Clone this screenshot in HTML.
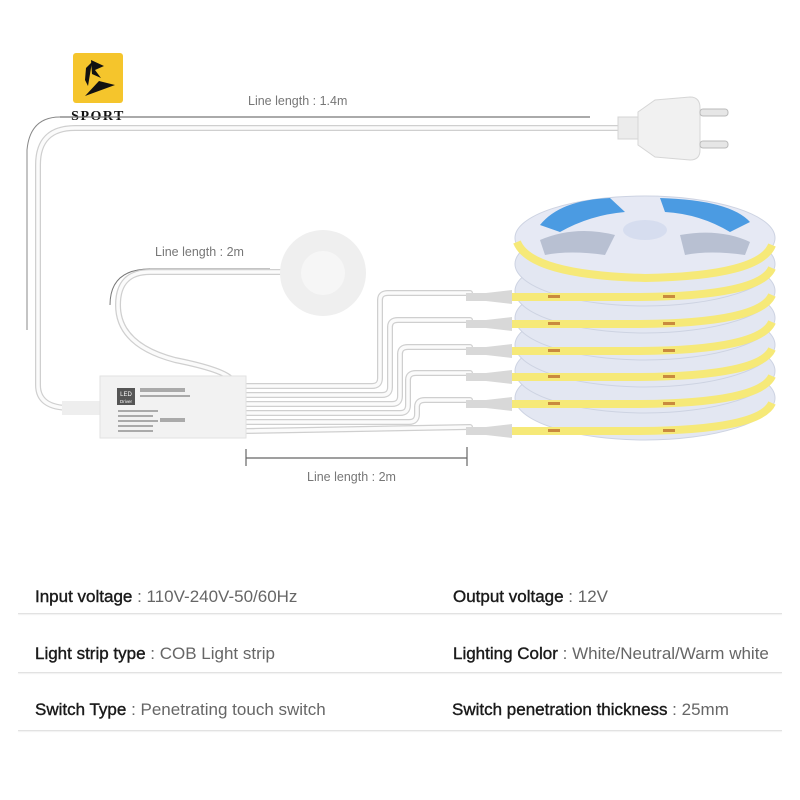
<!DOCTYPE html>
<html><head><meta charset="utf-8"><style>
body{margin:0;background:#fff;}
.w{position:relative;width:800px;height:800px;overflow:hidden;background:#fff;font-family:"Liberation Sans","Noto Sans CJK SC",sans-serif;}
.row{position:absolute;left:18px;width:764px;height:1px;background:#e2e2e2;box-shadow:0 1px 1px #eee;}
.t{position:absolute;font-size:17px;color:#666;white-space:nowrap;}
.t b{color:#1a1a1a;font-weight:normal;-webkit-text-stroke:0.4px #1a1a1a;}
</style></head><body><div class="w">
<svg width="800" height="560" style="position:absolute;left:0;top:0" xmlns="http://www.w3.org/2000/svg">
<rect x="73" y="53" width="50" height="50" rx="3" fill="#f5c52c"/>
<path d="M91 60 L104 66 L95 70 L101 78 L92 74 Z" fill="#111"/>
<path d="M86 68 L92 62 L88 86 L85 80 Z" fill="#111"/>
<path d="M85 96 L115 85 L99 81 Z" fill="#111"/>
<text x="98" y="120" font-family="Liberation Serif,serif" font-weight="bold" font-size="14" letter-spacing="1.5" text-anchor="middle" fill="#111">SPORT</text>
<path d="M60 117 L590 117" stroke="#777" stroke-width="1.2" fill="none"/>
<path d="M60 117 Q30 117 27 150 L27 330" stroke="#888" stroke-width="1" fill="none"/>
<text x="248" y="105" font-size="12.5" fill="#777">Line length : 1.4m</text>
<path d="M150 269 Q110 269 110 305" stroke="#777" stroke-width="1" fill="none"/>
<path d="M150 269 L270 269" stroke="#888" stroke-width="1" fill="none"/>
<text x="155" y="256" font-size="12.5" fill="#777">Line length : 2m</text>
<path d="M246 449 V466 M246 458 H467 M467 447 V466" stroke="#666" stroke-width="1.2" fill="none"/>
<text x="307" y="481" font-size="12.5" fill="#777">Line length : 2m</text>
<g fill="none" stroke-linecap="round">
<g stroke="#cfcfcf" stroke-width="6">
<path d="M625 128 L75 128 Q38 128 38 165 L38 385 Q38 408 70 408 L100 408"/>
<path d="M280 272 L150 272 Q118 272 118 305 Q118 345 175 360 Q225 370 232 380"/>
<path d="M245 386 L372 386 Q380 386 380 378 L380 300 Q380 293 388 293 L470 293"/>
<path d="M245 395 L382 395 Q390 395 390 387 L390 327 Q390 320 398 320 L470 320"/>
<path d="M245 404 L392 404 Q400 404 400 396 L400 354 Q400 347 408 347 L470 347"/>
<path d="M245 413 L400 413 Q408 413 408 405 L408 380 Q408 373 416 373 L470 373"/>
<path d="M245 422 L409 422 Q417 422 417 414 L417 407 Q417 400 425 400 L470 400"/>
<path d="M245 431 L470 427"/>
</g>
<g stroke="#fbfbfb" stroke-width="3.5">
<path d="M625 128 L75 128 Q38 128 38 165 L38 385 Q38 408 70 408 L100 408"/>
<path d="M280 272 L150 272 Q118 272 118 305 Q118 345 175 360 Q225 370 232 380"/>
<path d="M245 386 L372 386 Q380 386 380 378 L380 300 Q380 293 388 293 L470 293"/>
<path d="M245 395 L382 395 Q390 395 390 387 L390 327 Q390 320 398 320 L470 320"/>
<path d="M245 404 L392 404 Q400 404 400 396 L400 354 Q400 347 408 347 L470 347"/>
<path d="M245 413 L400 413 Q408 413 408 405 L408 380 Q408 373 416 373 L470 373"/>
<path d="M245 422 L409 422 Q417 422 417 414 L417 407 Q417 400 425 400 L470 400"/>
<path d="M245 431 L470 427"/>
</g></g>
<rect x="618" y="117" width="22" height="22" fill="#ececec" stroke="#d4d4d4"/>
<path d="M638 112 L655 100 L690 97 Q700 97 700 108 L700 150 Q700 160 690 160 L655 157 L638 145 Z" fill="#f1f1f1" stroke="#d6d6d6"/>
<rect x="700" y="109" width="28" height="7" rx="3" fill="#e6e6e6" stroke="#bbb"/>
<rect x="700" y="141" width="28" height="7" rx="3" fill="#e6e6e6" stroke="#bbb"/>
<circle cx="323" cy="273" r="43" fill="#efefef"/>
<circle cx="323" cy="273" r="22" fill="#f6f6f6"/>
<rect x="62" y="401" width="40" height="14" fill="#eee"/>
<rect x="100" y="376" width="146" height="62" fill="#f2f2f2" stroke="#e2e2e2"/>
<rect x="117" y="388" width="18" height="17" fill="#555"/>
<text x="126" y="396" font-size="6" fill="#fff" text-anchor="middle">LED</text>
<text x="126" y="403" font-size="4.5" fill="#fff" text-anchor="middle">Driver</text>
<g fill="#aaa"><rect x="140" y="388" width="45" height="4"/><rect x="140" y="395" width="50" height="2"/><rect x="118" y="410" width="40" height="2"/><rect x="118" y="415" width="35" height="2"/><rect x="118" y="420" width="40" height="2"/><rect x="118" y="425" width="35" height="2"/><rect x="118" y="430" width="35" height="2"/><rect x="160" y="418" width="25" height="4"/></g>
<g fill="#d8d8d8">
<path d="M466 289 h20 l26 -3 v14 l-26 -3 h-20 z" transform="translate(0,4)"/>
<path d="M466 316 h20 l26 -3 v14 l-26 -3 h-20 z" transform="translate(0,4)"/>
<path d="M466 343 h20 l26 -3 v14 l-26 -3 h-20 z" transform="translate(0,4)"/>
<path d="M466 369 h20 l26 -3 v14 l-26 -3 h-20 z" transform="translate(0,4)"/>
<path d="M466 396 h20 l26 -3 v14 l-26 -3 h-20 z" transform="translate(0,4)"/>
<path d="M466 423 h20 l26 -3 v14 l-26 -3 h-20 z" transform="translate(0,4)"/>
</g>
<g>
<ellipse cx="645" cy="398" rx="130" ry="42" fill="#e3e7f2" stroke="#cdd3e2"/>
<ellipse cx="645" cy="371" rx="130" ry="42" fill="#e3e7f2" stroke="#cdd3e2"/>
<ellipse cx="645" cy="345" rx="130" ry="42" fill="#e3e7f2" stroke="#cdd3e2"/>
<ellipse cx="645" cy="318" rx="130" ry="42" fill="#e3e7f2" stroke="#cdd3e2"/>
<ellipse cx="645" cy="291" rx="130" ry="42" fill="#e3e7f2" stroke="#cdd3e2"/>
<ellipse cx="645" cy="264" rx="130" ry="42" fill="#e3e7f2" stroke="#cdd3e2"/>
<ellipse cx="645" cy="238" rx="130" ry="42" fill="#e6e9f4" stroke="#cdd3e2"/>
</g>
<g fill="none" stroke="#f6e978" stroke-width="8">
<path d="M517 242 Q530 275 645 278 Q760 276 772 245"/>
<path d="M512 297 L640 297 Q760 296 772 268"/>
<path d="M512 324 L640 324 Q760 323 772 295"/>
<path d="M512 351 L640 351 Q760 350 772 322"/>
<path d="M512 377 L640 377 Q760 376 772 349"/>
<path d="M512 404 L640 404 Q760 403 772 376"/>
<path d="M512 431 L640 431 Q760 430 772 403"/>
</g>
<g fill="#c98a3e">
<rect x="548" y="295" width="12" height="3"/><rect x="663" y="295" width="12" height="3"/>
<rect x="548" y="322" width="12" height="3"/><rect x="663" y="322" width="12" height="3"/>
<rect x="548" y="349" width="12" height="3"/><rect x="663" y="349" width="12" height="3"/>
<rect x="548" y="375" width="12" height="3"/><rect x="663" y="375" width="12" height="3"/>
<rect x="548" y="402" width="12" height="3"/><rect x="663" y="402" width="12" height="3"/>
<rect x="548" y="429" width="12" height="3"/><rect x="663" y="429" width="12" height="3"/>
</g>
<path d="M540 225 Q560 200 610 198 L625 212 Q590 215 560 232 Z" fill="#4b9be2"/>
<path d="M660 198 Q730 200 750 222 L730 232 Q700 214 665 212 Z" fill="#4b9be2"/>
<ellipse cx="645" cy="230" rx="22" ry="10" fill="#d6ddef"/>
<path d="M540 240 Q575 225 615 235 L605 255 Q570 250 545 255 Z" fill="#b8c0d2"/>
<path d="M680 235 Q720 228 750 242 L745 255 Q710 250 685 255 Z" fill="#b8c0d2"/>
</svg>
<div class="t" style="left:35px;top:587px"><b>Input voltage</b> : 110V-240V-50/60Hz</div>
<div class="t" style="left:453px;top:587px"><b>Output voltage</b> : 12V</div>
<div class="row" style="top:613px"></div>
<div class="t" style="left:35px;top:644px"><b>Light strip type</b> : COB Light strip</div>
<div class="t" style="left:453px;top:644px"><b>Lighting Color</b> : White/Neutral/Warm white</div>
<div class="row" style="top:672px"></div>
<div class="t" style="left:35px;top:700px"><b>Switch Type</b> : Penetrating touch switch</div>
<div class="t" style="left:452px;top:700px"><b>Switch penetration thickness</b> : 25mm</div>
<div class="row" style="top:730px"></div>
</div></body></html>
